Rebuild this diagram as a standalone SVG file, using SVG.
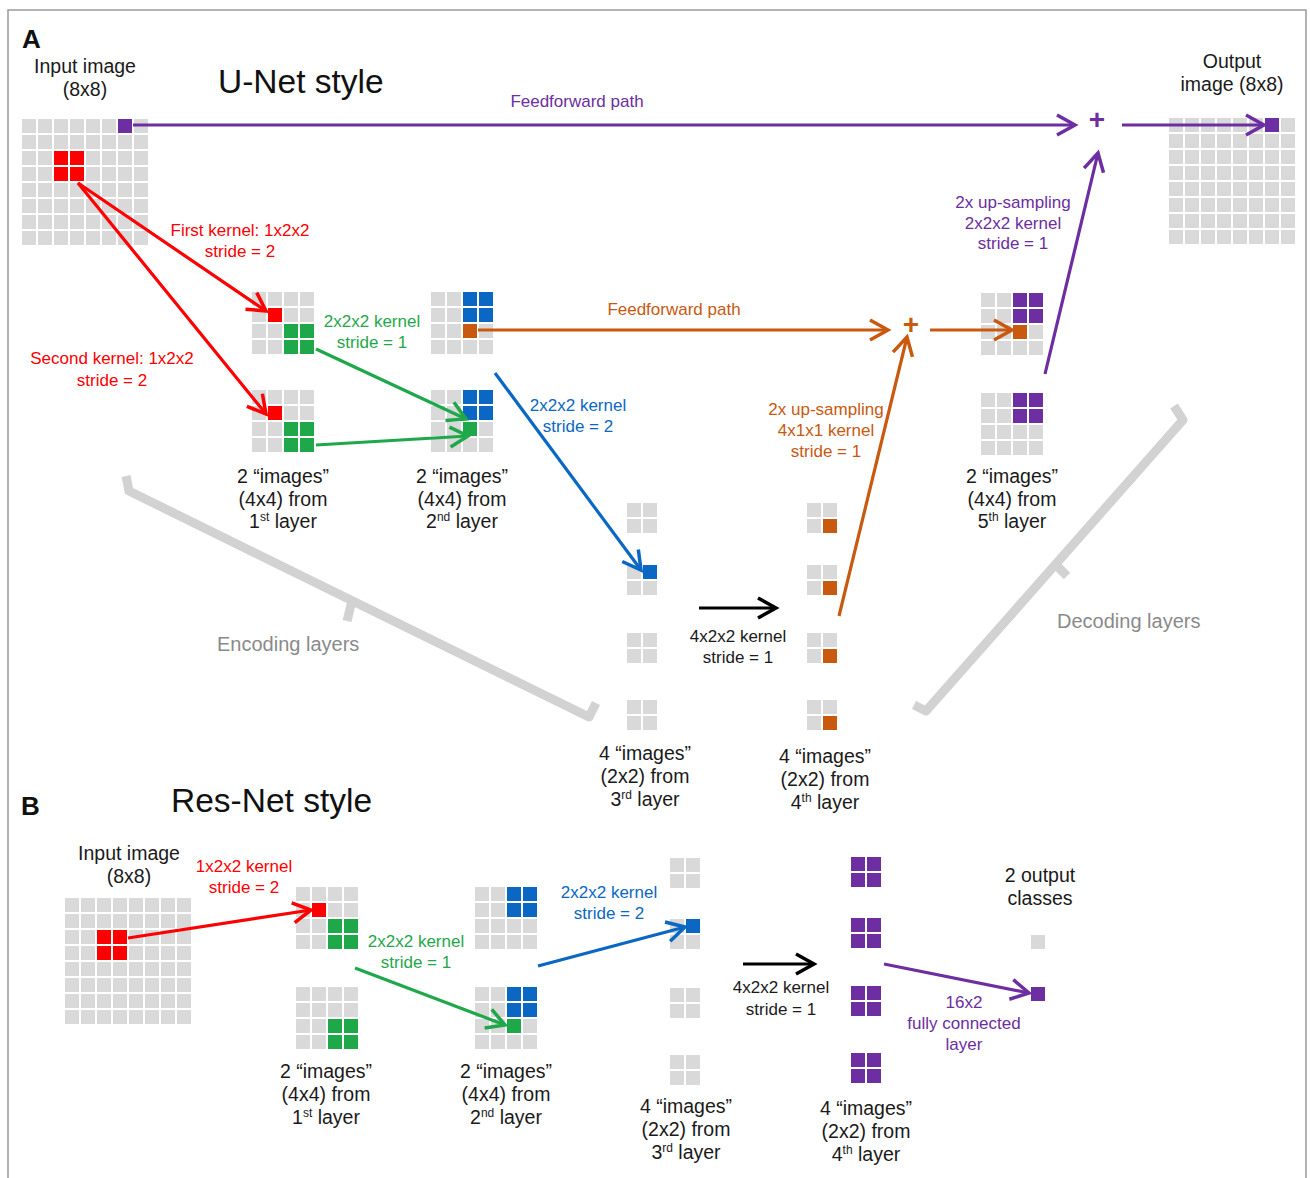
<svg xmlns="http://www.w3.org/2000/svg" xmlns:xlink="http://www.w3.org/1999/xlink" width="1310" height="1178" viewBox="0 0 1310 1178">
<style>
text{font-family:"Liberation Sans",Arial,sans-serif;}
.lbl{font-size:19.5px;fill:#1a1a1a;text-anchor:middle;}
.k{font-size:17px;text-anchor:middle;}
.title{font-size:33.5px;fill:#111;}
.letter{font-size:26px;font-weight:bold;fill:#111;}
.gtxt{font-size:20px;fill:#8a8a8a;}
.r{fill:#ff0000;} .g{fill:#1fa84a;} .b{fill:#0a68c4;} .o{fill:#c8590f;} .p{fill:#6c2ea0;} .kk{fill:#1a1a1a;}
.ln{fill:none;stroke-width:3.2;}
.sr{stroke:#ff0000;} .sg{stroke:#1fa84a;} .sb{stroke:#0a68c4;} .so{stroke:#c8590f;} .sp{stroke:#6c2ea0;} .sk{stroke:#000;}
.brk{fill:none;stroke:#d2d2d2;stroke-width:9;stroke-linejoin:round;}
</style>
<defs>
<rect id="cell" width="14" height="14" fill="#d9d9d9"/>
<g id="row2"><use href="#cell"/><use href="#cell" x="16"/></g>
<g id="g2"><use href="#row2"/><use href="#row2" y="16"/></g>
<g id="g4"><use href="#g2"/><use href="#g2" x="32"/><use href="#g2" y="32"/><use href="#g2" x="32" y="32"/></g>
<g id="g8"><use href="#g4"/><use href="#g4" x="64"/><use href="#g4" y="64"/><use href="#g4" x="64" y="64"/></g>
<marker id="mr" viewBox="0 0 24 24" markerUnits="userSpaceOnUse" markerWidth="24" markerHeight="24" refX="21" refY="12" orient="auto" overflow="visible"><path d="M3,2 L21,12 L3,22" fill="none" stroke="#ff0000" stroke-width="3.5"/></marker>
<marker id="mg" viewBox="0 0 24 24" markerUnits="userSpaceOnUse" markerWidth="24" markerHeight="24" refX="21" refY="12" orient="auto" overflow="visible"><path d="M3,2 L21,12 L3,22" fill="none" stroke="#1fa84a" stroke-width="3.5"/></marker>
<marker id="mb" viewBox="0 0 24 24" markerUnits="userSpaceOnUse" markerWidth="24" markerHeight="24" refX="21" refY="12" orient="auto" overflow="visible"><path d="M3,2 L21,12 L3,22" fill="none" stroke="#0a68c4" stroke-width="3.5"/></marker>
<marker id="mo" viewBox="0 0 24 24" markerUnits="userSpaceOnUse" markerWidth="24" markerHeight="24" refX="21" refY="12" orient="auto" overflow="visible"><path d="M3,2 L21,12 L3,22" fill="none" stroke="#c8590f" stroke-width="3.5"/></marker>
<marker id="mp" viewBox="0 0 24 24" markerUnits="userSpaceOnUse" markerWidth="24" markerHeight="24" refX="21" refY="12" orient="auto" overflow="visible"><path d="M3,2 L21,12 L3,22" fill="none" stroke="#6c2ea0" stroke-width="3.5"/></marker>
<marker id="mk" viewBox="0 0 24 24" markerUnits="userSpaceOnUse" markerWidth="24" markerHeight="24" refX="21" refY="12" orient="auto" overflow="visible"><path d="M3,2 L21,12 L3,22" fill="none" stroke="#000" stroke-width="3.5"/></marker>
</defs>
<rect width="1310" height="1178" fill="#fff"/>
<rect x="8" y="10" width="1298" height="1220" fill="none" stroke="#9a9a9a" stroke-width="1.5"/>

<!-- titles -->
<text class="letter" x="22" y="48">A</text>
<text class="letter" x="21" y="815">B</text>
<text class="title" x="218" y="93">U-Net style</text>
<text class="title" x="171" y="812">Res-Net style</text>

<!-- brackets -->
<g id="brackets">
<polyline class="brk" points="126,476 129,491 589,717 596,703"/>
<polyline class="brk" points="352,601 347,621"/>
<text class="gtxt" x="217" y="651">Encoding layers</text>
<polyline class="brk" points="1174,406 1183,420 926,711 914,705"/>
<polyline class="brk" points="1056,565 1067,576"/>
<text class="gtxt" x="1057" y="628">Decoding layers</text>
</g>

<!-- A nodes -->
<g id="a-input">
<text class="lbl" x="85" y="73">Input image</text>
<text class="lbl" x="85" y="96">(8x8)</text>
<use href="#g8" x="22" y="119"/>
<rect class="r" x="54" y="151" width="14" height="14"/><rect class="r" x="70" y="151" width="14" height="14"/>
<rect class="r" x="54" y="167" width="14" height="14"/><rect class="r" x="70" y="167" width="14" height="14"/>
<rect class="p" x="118" y="119" width="14" height="14"/>
</g>
<g id="a-layer1">
<use href="#g4" x="252" y="292"/>
<rect class="r" x="268" y="308" width="14" height="14"/>
<rect class="g" x="284" y="324" width="14" height="14"/><rect class="g" x="300" y="324" width="14" height="14"/>
<rect class="g" x="284" y="340" width="14" height="14"/><rect class="g" x="300" y="340" width="14" height="14"/>
<use href="#g4" x="252" y="390"/>
<rect class="r" x="268" y="406" width="14" height="14"/>
<rect class="g" x="284" y="422" width="14" height="14"/><rect class="g" x="300" y="422" width="14" height="14"/>
<rect class="g" x="284" y="438" width="14" height="14"/><rect class="g" x="300" y="438" width="14" height="14"/>
<text class="lbl" x="283" y="483">2 “images”</text>
<text class="lbl" x="283" y="506">(4x4) from</text>
<text class="lbl" x="283" y="528">1<tspan font-size="12" dy="-7">st</tspan><tspan dy="7"> layer</tspan></text>
</g>
<g id="a-layer2">
<use href="#g4" x="431" y="292"/>
<rect class="b" x="463" y="292" width="14" height="14"/><rect class="b" x="479" y="292" width="14" height="14"/>
<rect class="b" x="463" y="308" width="14" height="14"/><rect class="b" x="479" y="308" width="14" height="14"/>
<rect class="o" x="463" y="324" width="14" height="14"/>
<use href="#g4" x="431" y="390"/>
<rect class="b" x="463" y="390" width="14" height="14"/><rect class="b" x="479" y="390" width="14" height="14"/>
<rect class="b" x="463" y="406" width="14" height="14"/><rect class="b" x="479" y="406" width="14" height="14"/>
<rect class="g" x="463" y="422" width="14" height="14"/>
<text class="lbl" x="462" y="483">2 “images”</text>
<text class="lbl" x="462" y="506">(4x4) from</text>
<text class="lbl" x="462" y="528">2<tspan font-size="12" dy="-7">nd</tspan><tspan dy="7"> layer</tspan></text>
</g>
<g id="a-layer3">
<use href="#g2" x="627" y="503"/>
<use href="#g2" x="627" y="565"/>
<use href="#g2" x="627" y="633"/>
<use href="#g2" x="627" y="700"/>
<rect class="b" x="643" y="565" width="14" height="14"/>
<text class="lbl" x="645" y="760">4 “images”</text>
<text class="lbl" x="645" y="783">(2x2) from</text>
<text class="lbl" x="645" y="806">3<tspan font-size="12" dy="-7">rd</tspan><tspan dy="7"> layer</tspan></text>
</g>
<g id="a-layer4">
<use href="#g2" x="807" y="503"/>
<use href="#g2" x="807" y="565"/>
<use href="#g2" x="807" y="633"/>
<use href="#g2" x="807" y="700"/>
<rect class="o" x="823" y="519" width="14" height="14"/>
<rect class="o" x="823" y="581" width="14" height="14"/>
<rect class="o" x="823" y="649" width="14" height="14"/>
<rect class="o" x="823" y="716" width="14" height="14"/>
<text class="lbl" x="825" y="763">4 “images”</text>
<text class="lbl" x="825" y="786">(2x2) from</text>
<text class="lbl" x="825" y="809">4<tspan font-size="12" dy="-7">th</tspan><tspan dy="7"> layer</tspan></text>
</g>
<g id="a-layer5">
<use href="#g4" x="981" y="293"/>
<rect class="p" x="1013" y="293" width="14" height="14"/><rect class="p" x="1029" y="293" width="14" height="14"/>
<rect class="p" x="1013" y="309" width="14" height="14"/><rect class="p" x="1029" y="309" width="14" height="14"/>
<rect class="o" x="1013" y="325" width="14" height="14"/>
<use href="#g4" x="981" y="393"/>
<rect class="p" x="1013" y="393" width="14" height="14"/><rect class="p" x="1029" y="393" width="14" height="14"/>
<rect class="p" x="1013" y="409" width="14" height="14"/><rect class="p" x="1029" y="409" width="14" height="14"/>
<text class="lbl" x="1012" y="483">2 “images”</text>
<text class="lbl" x="1012" y="506">(4x4) from</text>
<text class="lbl" x="1012" y="528">5<tspan font-size="12" dy="-7">th</tspan><tspan dy="7"> layer</tspan></text>
</g>
<g id="a-output">
<text class="lbl" x="1232" y="68">Output</text>
<text class="lbl" x="1232" y="91">image (8x8)</text>
<use href="#g8" x="1169" y="118"/>
<rect class="p" x="1265" y="118" width="14" height="14"/>
</g>
<g id="a-plus-purple"><text x="1097" y="129" font-size="28" font-weight="bold" text-anchor="middle" class="p">+</text></g>
<g id="a-plus-orange"><text x="911" y="334" font-size="28" font-weight="bold" text-anchor="middle" class="o">+</text></g>

<!-- B nodes -->
<g id="b-input">
<text class="lbl" x="129" y="860">Input image</text>
<text class="lbl" x="129" y="883">(8x8)</text>
<use href="#g8" x="65" y="898"/>
<rect class="r" x="97" y="930" width="14" height="14"/><rect class="r" x="113" y="930" width="14" height="14"/>
<rect class="r" x="97" y="946" width="14" height="14"/><rect class="r" x="113" y="946" width="14" height="14"/>
</g>
<g id="b-layer1">
<use href="#g4" x="296" y="887"/>
<rect class="r" x="312" y="903" width="14" height="14"/>
<rect class="g" x="328" y="919" width="14" height="14"/><rect class="g" x="344" y="919" width="14" height="14"/>
<rect class="g" x="328" y="935" width="14" height="14"/><rect class="g" x="344" y="935" width="14" height="14"/>
<use href="#g4" x="296" y="987"/>
<rect class="g" x="328" y="1019" width="14" height="14"/><rect class="g" x="344" y="1019" width="14" height="14"/>
<rect class="g" x="328" y="1035" width="14" height="14"/><rect class="g" x="344" y="1035" width="14" height="14"/>
<text class="lbl" x="326" y="1078">2 “images”</text>
<text class="lbl" x="326" y="1101">(4x4) from</text>
<text class="lbl" x="326" y="1124">1<tspan font-size="12" dy="-7">st</tspan><tspan dy="7"> layer</tspan></text>
</g>
<g id="b-layer2">
<use href="#g4" x="475" y="887"/>
<rect class="b" x="507" y="887" width="14" height="14"/><rect class="b" x="523" y="887" width="14" height="14"/>
<rect class="b" x="507" y="903" width="14" height="14"/><rect class="b" x="523" y="903" width="14" height="14"/>
<use href="#g4" x="475" y="987"/>
<rect class="b" x="507" y="987" width="14" height="14"/><rect class="b" x="523" y="987" width="14" height="14"/>
<rect class="b" x="507" y="1003" width="14" height="14"/><rect class="b" x="523" y="1003" width="14" height="14"/>
<rect class="g" x="507" y="1019" width="14" height="14"/>
<text class="lbl" x="506" y="1078">2 “images”</text>
<text class="lbl" x="506" y="1101">(4x4) from</text>
<text class="lbl" x="506" y="1124">2<tspan font-size="12" dy="-7">nd</tspan><tspan dy="7"> layer</tspan></text>
</g>
<g id="b-layer3">
<use href="#g2" x="670" y="858"/>
<use href="#g2" x="670" y="919"/>
<use href="#g2" x="670" y="988"/>
<use href="#g2" x="670" y="1055"/>
<rect class="b" x="686" y="919" width="14" height="14"/>
<text class="lbl" x="686" y="1113">4 “images”</text>
<text class="lbl" x="686" y="1136">(2x2) from</text>
<text class="lbl" x="686" y="1159">3<tspan font-size="12" dy="-7">rd</tspan><tspan dy="7"> layer</tspan></text>
</g>
<g id="b-layer4" class="p">
<rect x="851" y="857" width="14" height="14"/><rect x="867" y="857" width="14" height="14"/><rect x="851" y="873" width="14" height="14"/><rect x="867" y="873" width="14" height="14"/>
<rect x="851" y="918" width="14" height="14"/><rect x="867" y="918" width="14" height="14"/><rect x="851" y="934" width="14" height="14"/><rect x="867" y="934" width="14" height="14"/>
<rect x="851" y="986" width="14" height="14"/><rect x="867" y="986" width="14" height="14"/><rect x="851" y="1002" width="14" height="14"/><rect x="867" y="1002" width="14" height="14"/>
<rect x="851" y="1053" width="14" height="14"/><rect x="867" y="1053" width="14" height="14"/><rect x="851" y="1069" width="14" height="14"/><rect x="867" y="1069" width="14" height="14"/>
<text class="lbl" x="866" y="1115">4 “images”</text>
<text class="lbl" x="866" y="1138">(2x2) from</text>
<text class="lbl" x="866" y="1161">4<tspan font-size="12" dy="-7">th</tspan><tspan dy="7"> layer</tspan></text>
</g>
<g id="b-output">
<text class="lbl" x="1040" y="882">2 output</text>
<text class="lbl" x="1040" y="905">classes</text>
<use href="#cell" x="1031" y="935"/>
<rect class="p" x="1031" y="987" width="14" height="14"/>
</g>

<!-- connectors -->
<g id="connectors">
<line class="ln sp" x1="133" y1="125" x2="1075" y2="125" marker-end="url(#mp)"/>
<line class="ln sp" x1="1122" y1="125" x2="1264" y2="125" marker-end="url(#mp)"/>
<line class="ln sp" x1="1045" y1="374" x2="1098" y2="153" marker-end="url(#mp)"/>
<line class="ln sr" x1="78" y1="183" x2="266" y2="311" marker-end="url(#mr)"/>
<line class="ln sr" x1="78" y1="183" x2="266" y2="414" marker-end="url(#mr)"/>
<line class="ln sg" x1="316" y1="349" x2="466" y2="419" marker-end="url(#mg)"/>
<line class="ln sg" x1="316" y1="445" x2="468" y2="436" marker-end="url(#mg)"/>
<line class="ln sb" x1="495" y1="373" x2="641" y2="570" marker-end="url(#mb)"/>
<line class="ln so" x1="478" y1="330" x2="888" y2="330" marker-end="url(#mo)"/>
<line class="ln so" x1="930" y1="330" x2="1012" y2="330" marker-end="url(#mo)"/>
<line class="ln so" x1="839" y1="616" x2="907" y2="337" marker-end="url(#mo)"/>
<line class="ln sk" x1="699" y1="608" x2="776" y2="608" marker-end="url(#mk)"/>
<line class="ln sr" x1="128" y1="938" x2="311" y2="910" marker-end="url(#mr)"/>
<line class="ln sg" x1="355" y1="968" x2="505" y2="1025" marker-end="url(#mg)"/>
<line class="ln sb" x1="538" y1="966" x2="685" y2="927" marker-end="url(#mb)"/>
<line class="ln sk" x1="743" y1="964" x2="814" y2="964" marker-end="url(#mk)"/>
<line class="ln sp" x1="884" y1="964" x2="1029" y2="993" marker-end="url(#mp)"/>
</g>

<!-- connector labels -->
<g id="connector-labels">
<text class="k p" x="577" y="107">Feedforward path</text>
<text class="k p" x="1013" y="208">2x up-sampling</text>
<text class="k p" x="1013" y="229">2x2x2 kernel</text>
<text class="k p" x="1013" y="249">stride = 1</text>
<text class="k r" x="240" y="236">First kernel: 1x2x2</text>
<text class="k r" x="240" y="257">stride = 2</text>
<text class="k r" x="112" y="364">Second kernel: 1x2x2</text>
<text class="k r" x="112" y="386">stride = 2</text>
<text class="k g" x="372" y="327">2x2x2 kernel</text>
<text class="k g" x="372" y="348">stride = 1</text>
<text class="k b" x="578" y="411">2x2x2 kernel</text>
<text class="k b" x="578" y="432">stride = 2</text>
<text class="k o" x="674" y="315">Feedforward path</text>
<text class="k o" x="826" y="415">2x up-sampling</text>
<text class="k o" x="826" y="436">4x1x1 kernel</text>
<text class="k o" x="826" y="457">stride = 1</text>
<text class="k kk" x="738" y="642">4x2x2 kernel</text>
<text class="k kk" x="738" y="663">stride = 1</text>
<text class="k r" x="244" y="872">1x2x2 kernel</text>
<text class="k r" x="244" y="893">stride = 2</text>
<text class="k g" x="416" y="947">2x2x2 kernel</text>
<text class="k g" x="416" y="968">stride = 1</text>
<text class="k b" x="609" y="898">2x2x2 kernel</text>
<text class="k b" x="609" y="919">stride = 2</text>
<text class="k kk" x="781" y="993">4x2x2 kernel</text>
<text class="k kk" x="781" y="1015">stride = 1</text>
<text class="k p" x="964" y="1008">16x2</text>
<text class="k p" x="964" y="1029">fully connected</text>
<text class="k p" x="964" y="1050">layer</text>
</g>
</svg>
